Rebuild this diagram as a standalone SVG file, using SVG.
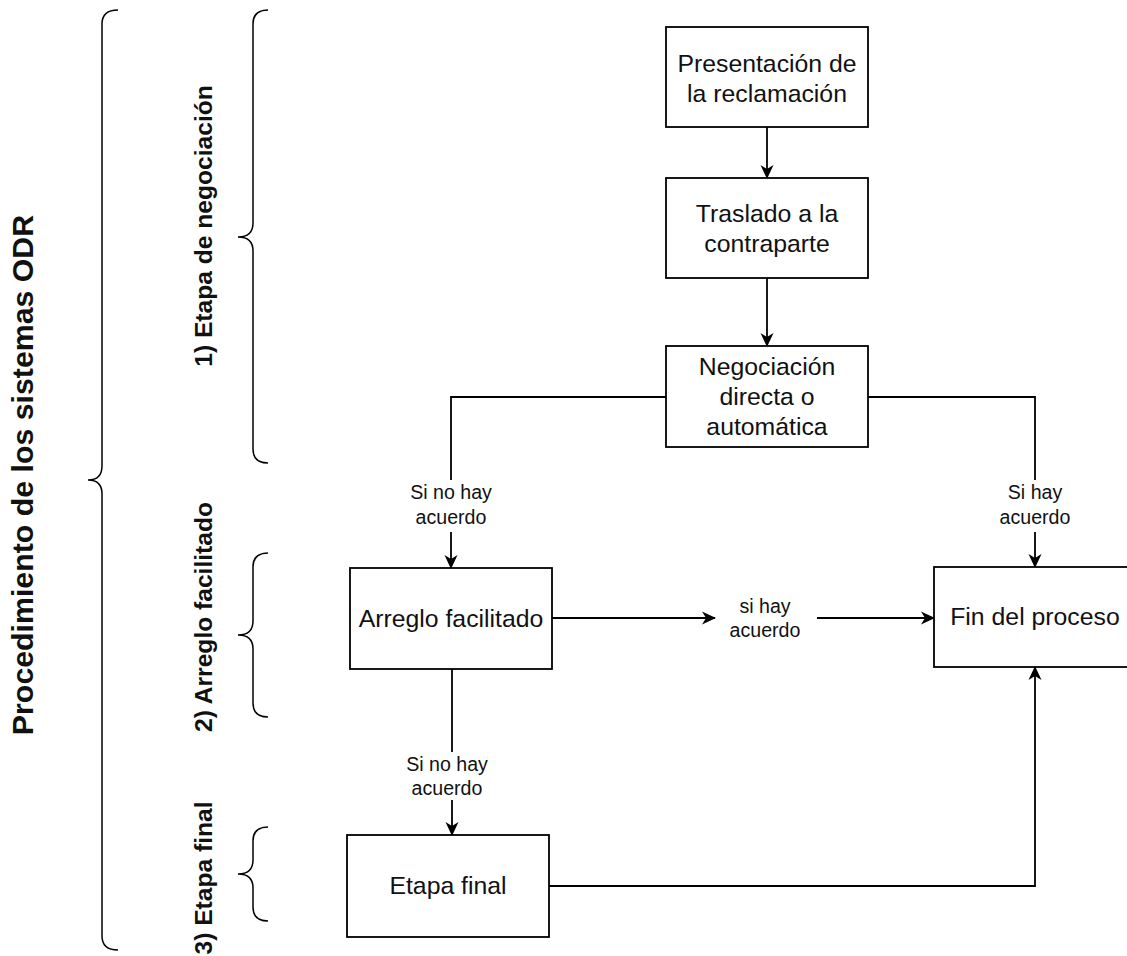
<svg xmlns="http://www.w3.org/2000/svg" width="1127" height="956" viewBox="0 0 1127 956">
<style>
.box{fill:#fff;stroke:#000;stroke-width:1.8}
.t{font-family:"Liberation Sans",Arial,sans-serif;font-size:24.8px;fill:#111;text-anchor:middle}
.lbl{font-family:"Liberation Sans",Arial,sans-serif;font-size:19.6px;fill:#111;text-anchor:middle}
.side{font-family:"Liberation Sans",Arial,sans-serif;font-weight:bold;fill:#111;text-anchor:middle}
.edge{fill:none;stroke:#000;stroke-width:1.8}
.brace{fill:none;stroke:#000;stroke-width:1.5}
</style>
<defs>
<marker id="arr" viewBox="0 0 14 14" refX="13" refY="7" markerWidth="14" markerHeight="14" markerUnits="userSpaceOnUse" orient="auto">
<path d="M0,0.5 L14,7 L0,13.5 L4,7 z" fill="#000"/>
</marker>
</defs>
<rect width="1127" height="956" fill="#fff"/>

<g id="braces">
<path class="brace" d="M118,10 Q102,10 102,24 L102,466 Q102,480 88,480 Q102,480 102,494 L102,936 Q102,950 118,950"/>
<path class="brace" d="M268,10 Q253,10 253,24 L253,223 Q253,237 238,237 Q253,237 253,251 L253,449 Q253,463 268,463"/>
<path class="brace" d="M268,553 Q253,553 253,567 L253,621 Q253,635 238,635 Q253,635 253,649 L253,703 Q253,717 268,717"/>
<path class="brace" d="M268,827 Q253,827 253,841 L253,860 Q253,874 238,874 Q253,874 253,888 L253,907 Q253,921 268,921"/>
</g>

<g id="titles">
<text class="side" font-size="30.3" transform="translate(33,475) rotate(-90)">Procedimiento de los sistemas ODR</text>
<text class="side" font-size="24.6" transform="translate(212,226) rotate(-90)">1) Etapa de negociación</text>
<text class="side" font-size="24.6" transform="translate(212,617) rotate(-90)">2) Arreglo facilitado</text>
<text class="side" font-size="24.6" transform="translate(212,878) rotate(-90)">3) Etapa final</text>
</g>

<g id="connectors">
<path class="edge" d="M767,127 L767,178" marker-end="url(#arr)"/>
<path class="edge" d="M767,278 L767,346" marker-end="url(#arr)"/>
<path class="edge" d="M666,397 L451,397 L451,568" marker-end="url(#arr)"/>
<path class="edge" d="M868,397 L1035,397 L1035,567" marker-end="url(#arr)"/>
<path class="edge" d="M552,618 L715,618" marker-end="url(#arr)"/>
<path class="edge" d="M817,618 L934,618" marker-end="url(#arr)"/>
<path class="edge" d="M452,669 L452,835" marker-end="url(#arr)"/>
<path class="edge" d="M549,886 L1035,886 L1035,667" marker-end="url(#arr)"/>
<g id="edge-labels">
<rect x="400" y="480" width="102" height="52" fill="#fff"/>
<text class="lbl" x="451" y="499">Si no hay</text>
<text class="lbl" x="451" y="524">acuerdo</text>
<rect x="990" y="480" width="90" height="52" fill="#fff"/>
<text class="lbl" x="1035" y="499">Si hay</text>
<text class="lbl" x="1035" y="524">acuerdo</text>
<rect x="400" y="752" width="104" height="48" fill="#fff"/>
<text class="lbl" x="447" y="771">Si no hay</text>
<text class="lbl" x="447" y="795">acuerdo</text>
</g>
</g>

<g id="n-presentacion">
<rect class="box" x="666" y="27" width="202" height="100"/>
<text class="t" x="767" y="72">Presentación de</text>
<text class="t" x="767" y="102">la reclamación</text>
</g>
<g id="n-traslado">
<rect class="box" x="666" y="178" width="202" height="100"/>
<text class="t" x="767" y="222">Traslado a la</text>
<text class="t" x="767" y="252">contraparte</text>
</g>
<g id="n-negociacion">
<rect class="box" x="666" y="346" width="202" height="101"/>
<text class="t" x="767" y="375">Negociación</text>
<text class="t" x="767" y="405">directa o</text>
<text class="t" x="767" y="435">automática</text>
</g>
<g id="n-arreglo">
<rect class="box" x="350" y="568" width="202" height="101"/>
<text class="t" x="451" y="627">Arreglo facilitado</text>
</g>
<g id="n-sihay">
<text class="lbl" x="765" y="613">si hay</text>
<text class="lbl" x="765" y="637">acuerdo</text>
</g>
<g id="n-fin">
<rect class="box" x="934" y="567" width="202" height="100"/>
<text class="t" x="1035" y="625">Fin del proceso</text>
</g>
<g id="n-final">
<rect class="box" x="347" y="835" width="202" height="102"/>
<text class="t" x="448" y="894">Etapa final</text>
</g>
</svg>
